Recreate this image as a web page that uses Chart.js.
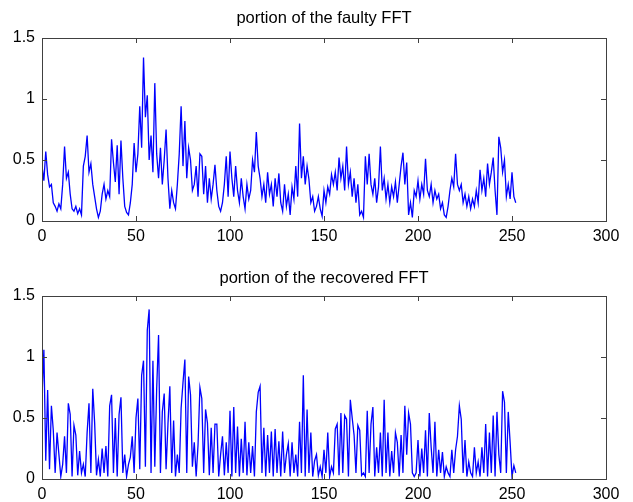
<!DOCTYPE html>
<html>
<head>
<meta charset="utf-8">
<script src="https://cdn.jsdelivr.net/npm/chart.js@4"></script>
<style>
  body { margin: 0; background: #fff; }
  .wrap { position: absolute; left: 0; width: 633px; height: 251px; }
</style>
</head>
<body>
<div class="wrap" style="top:0"><canvas id="faultyChart" width="633" height="251"></canvas></div>
<div class="wrap" style="top:251px"><canvas id="recoveredChart" width="633" height="251"></canvas></div>
<script>
var xTicks = [0, 50, 100, 150, 200, 250, 300];
var yTicks = [0, 0.5, 1, 1.5];

// faulty FFT magnitude, samples 0..252
var faulty = [
  0.45, 0.33, 0.57, 0.38, 0.28, 0.30, 0.15, 0.12, 0.08, 0.14,
  0.10, 0.30, 0.61, 0.35, 0.40, 0.22, 0.10, 0.08, 0.12, 0.06,
  0.10, 0.05, 0.45, 0.53, 0.70, 0.40, 0.47, 0.30, 0.20, 0.10,
  0.03, 0.08, 0.22, 0.30, 0.18, 0.25, 0.20, 0.67, 0.48, 0.32,
  0.62, 0.22, 0.66, 0.35, 0.12, 0.07, 0.05, 0.15, 0.30, 0.64,
  0.40, 0.55, 0.94, 0.60, 1.34, 0.85, 1.03, 0.50, 0.70, 0.40,
  1.13, 0.55, 0.35, 0.60, 0.30, 0.50, 0.75, 0.35, 0.10, 0.25,
  0.15, 0.10, 0.30, 0.55, 0.94, 0.45, 0.82, 0.35, 0.60, 0.50,
  0.25, 0.30, 0.45, 0.20, 0.55, 0.53, 0.22, 0.45, 0.15, 0.35,
  0.18, 0.30, 0.46, 0.25, 0.12, 0.08, 0.15, 0.30, 0.53, 0.20,
  0.57, 0.35, 0.20, 0.45, 0.25, 0.15, 0.35, 0.20, 0.10, 0.30,
  0.18, 0.25, 0.50, 0.40, 0.73, 0.45, 0.35, 0.20, 0.30, 0.15,
  0.40, 0.22, 0.30, 0.12, 0.35, 0.20, 0.39, 0.15, 0.08, 0.30,
  0.12, 0.22, 0.05, 0.28, 0.18, 0.45, 0.20, 0.80, 0.35, 0.53,
  0.30, 0.45, 0.34, 0.15, 0.20, 0.08, 0.12, 0.20, 0.10, 0.04,
  0.25, 0.15, 0.28, 0.22, 0.38, 0.30, 0.40, 0.25, 0.52, 0.35,
  0.45, 0.25, 0.61, 0.30, 0.40, 0.20, 0.35, 0.15, 0.30, 0.05,
  0.08, 0.03, 0.53, 0.30, 0.55, 0.30, 0.22, 0.35, 0.15, 0.28,
  0.61, 0.25, 0.35, 0.18, 0.30, 0.15, 0.28, 0.20, 0.32, 0.15,
  0.30, 0.45, 0.56, 0.30, 0.48, 0.05, 0.15, 0.03, 0.25, 0.20,
  0.33, 0.18, 0.30, 0.22, 0.51, 0.25, 0.20, 0.30, 0.15, 0.25,
  0.18, 0.22, 0.10, 0.15, 0.05, 0.03, 0.12, 0.25, 0.35, 0.28,
  0.55, 0.30, 0.25, 0.30, 0.15, 0.22, 0.12, 0.20, 0.10, 0.18,
  0.12, 0.25, 0.15, 0.42, 0.25, 0.35, 0.20, 0.47, 0.30, 0.40,
  0.52, 0.25, 0.05, 0.69, 0.60, 0.40, 0.50, 0.20, 0.30, 0.18,
  0.40, 0.20, 0.15
];

// recovered FFT magnitude, samples 0..252
var recovered = [
  0.67, 1.06, 0.15, 0.73, 0.08, 0.60, 0.40, 0.05, 0.38, 0.20,
  0.02, 0.12, 0.35, 0.05, 0.62, 0.53, 0.02, 0.44, 0.36, 0.03,
  0.23, 0.05, 0.12, 0.02, 0.38, 0.62, 0.05, 0.74, 0.46, 0.03,
  0.16, 0.02, 0.25, 0.05, 0.27, 0.02, 0.60, 0.69, 0.05, 0.50,
  0.02, 0.53, 0.67, 0.05, 0.20, 0.02, 0.12, 0.18, 0.35, 0.05,
  0.50, 0.66, 0.08, 0.85, 0.97, 0.10, 1.22, 1.39, 0.05, 0.97,
  0.10, 0.74, 1.18, 0.05, 0.55, 0.70, 0.08, 0.45, 0.76, 0.05,
  0.48, 0.02, 0.20, 0.05, 0.58, 0.79, 0.98, 0.05, 0.84, 0.69,
  0.10, 0.30, 0.02, 0.28, 0.75, 0.66, 0.05, 0.57, 0.46, 0.03,
  0.42, 0.05, 0.45, 0.45, 0.02, 0.20, 0.35, 0.03, 0.30, 0.05,
  0.56, 0.02, 0.59, 0.05, 0.43, 0.02, 0.33, 0.05, 0.47, 0.03,
  0.30, 0.05, 0.27, 0.02, 0.55, 0.71, 0.76, 0.05, 0.42, 0.02,
  0.36, 0.05, 0.39, 0.02, 0.41, 0.05, 0.31, 0.02, 0.39, 0.05,
  0.20, 0.29, 0.02, 0.30, 0.05, 0.20, 0.02, 0.47, 0.05, 0.85,
  0.02, 0.57, 0.05, 0.38, 0.02, 0.15, 0.20, 0.03, 0.10, 0.02,
  0.24, 0.05, 0.38, 0.02, 0.10, 0.05, 0.41, 0.45, 0.03, 0.54,
  0.05, 0.52, 0.49, 0.02, 0.65, 0.50, 0.36, 0.05, 0.44, 0.40,
  0.03, 0.05, 0.02, 0.56, 0.05, 0.45, 0.59, 0.02, 0.26, 0.05,
  0.38, 0.02, 0.65, 0.05, 0.38, 0.02, 0.23, 0.05, 0.38, 0.30,
  0.02, 0.36, 0.05, 0.60, 0.20, 0.54, 0.45, 0.05, 0.02, 0.05,
  0.32, 0.02, 0.25, 0.05, 0.40, 0.02, 0.54, 0.26, 0.05, 0.47,
  0.02, 0.24, 0.05, 0.22, 0.02, 0.10, 0.05, 0.02, 0.24, 0.05,
  0.24, 0.35, 0.60, 0.49, 0.05, 0.32, 0.02, 0.14, 0.05, 0.02,
  0.26, 0.05, 0.14, 0.02, 0.26, 0.05, 0.45, 0.02, 0.38, 0.05,
  0.52, 0.02, 0.55, 0.20, 0.05, 0.72, 0.63, 0.05, 0.55, 0.30,
  0.02, 0.11, 0.05
];

var fontFamily = "'Liberation Sans', Arial, sans-serif";

// white background, title centred over the axes, matlab style box with inward ticks
var boxPlugin = {
  id: 'box',
  beforeDraw: function (chart) {
    var ctx = chart.ctx;
    ctx.save();
    ctx.fillStyle = '#fff';
    ctx.fillRect(0, 0, chart.width, chart.height);
    ctx.restore();
  },
  afterDraw: function (chart) {
    var ctx = chart.ctx, a = chart.chartArea;
    var sx = chart.scales.x, sy = chart.scales.y;
    var opts = chart.options.plugins.box;
    var len = 5;
    ctx.save();
    ctx.fillStyle = '#000';
    ctx.font = '16.5px ' + fontFamily;
    ctx.textAlign = 'center';
    ctx.textBaseline = 'middle';
    ctx.fillText(opts.title, (a.left + a.right) / 2, opts.titleY);

    ctx.strokeStyle = '#404040';
    ctx.lineWidth = 1;
    ctx.strokeRect(Math.round(a.left) + 0.5, Math.round(a.top) + 0.5,
      Math.round(a.right - a.left), Math.round(a.bottom - a.top));
    ctx.beginPath();
    xTicks.forEach(function (t) {
      var px = Math.round(sx.getPixelForValue(t)) + 0.5;
      ctx.moveTo(px, a.bottom); ctx.lineTo(px, a.bottom - len);
      ctx.moveTo(px, a.top); ctx.lineTo(px, a.top + len);
    });
    yTicks.forEach(function (t) {
      var py = Math.round(sy.getPixelForValue(t)) + 0.5;
      ctx.moveTo(a.left, py); ctx.lineTo(a.left + len, py);
      ctx.moveTo(a.right, py); ctx.lineTo(a.right - len, py);
    });
    ctx.stroke();
    ctx.restore();
  }
};

const makePlot = (id, title, values, topPad, titleY, xHeight) => {
  var ctx = document.getElementById(id).getContext('2d');
  var points = values.map(function (v, i) { return { x: i, y: v }; });

  new Chart(ctx, {
    type: 'line',
    data: {
      datasets: [{
        data: points,
        borderColor: '#0000ff',
        borderWidth: 1.3,
        pointRadius: 0,
        tension: 0,
        fill: false
      }]
    },
    options: {
      responsive: false,
      animation: false,
      layout: { padding: { left: 0, right: 27, top: topPad, bottom: 0 } },
      plugins: {
        legend: { display: false },
        tooltip: { enabled: false },
        title: { display: false },
        box: { title: title, titleY: titleY }
      },
      scales: {
        x: {
          type: 'linear',
          min: 0, max: 300,
          afterBuildTicks: function (s) { s.ticks = xTicks.map(function (v) { return { value: v }; }); },
          afterFit: function (s) { s.height = xHeight; },
          grid: { display: false, drawTicks: false },
          border: { display: false },
          ticks: { color: '#000', padding: 6, maxRotation: 0, font: { family: fontFamily, size: 16 } }
        },
        y: {
          min: 0, max: 1.5,
          afterBuildTicks: function (s) { s.ticks = yTicks.map(function (v) { return { value: v }; }); },
          afterFit: function (s) { s.width = 42; },
          grid: { display: false, drawTicks: false },
          border: { display: false },
          ticks: { color: '#000', padding: 7, font: { family: fontFamily, size: 16 },
            callback: function (v) { return String(v); } }
        }
      }
    },
    plugins: [boxPlugin]
  });
};

makePlot('faultyChart', 'portion of the faulty FFT', faulty, 38, 18, 30);
makePlot('recoveredChart', 'portion of the recovered FFT', recovered, 45, 27, 23);
</script>
</body>
</html>
